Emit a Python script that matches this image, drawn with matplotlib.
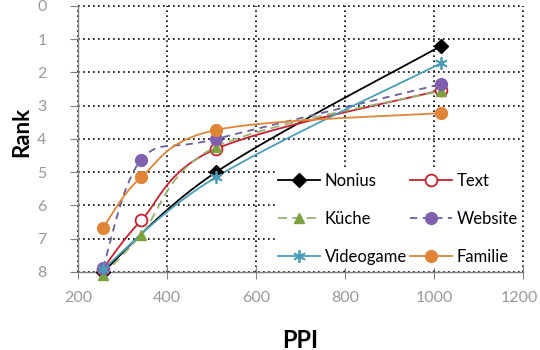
import numpy as np
import matplotlib
matplotlib.use("Agg")
import matplotlib.pyplot as plt
from matplotlib.transforms import ScaledTranslation

plt.rcParams['font.family'] = ['Lato', 'DejaVu Sans']

# Data
ppi = [256, 342, 510, 1016]
nonius = [8.0, None, 5.0, 1.2]
text = [7.9, 6.45, 4.3, 2.53]
kueche = [8.1, 6.88, 4.24, 2.55]
website = [7.88, 4.63, 4.0, 2.35]
videogame = [7.92, None, 5.15, 1.72]
familie = [6.68, 5.15, 3.73, 3.22]

x_ticks = [200, 400, 600, 800, 1000, 1200]
y_ticks = [0, 1, 2, 3, 4, 5, 6, 7, 8]


def excel_smooth(xs, ys, n=30):
    pts = np.array([(x, y) for x, y in zip(xs, ys) if y is not None], dtype=float)
    if len(pts) < 3:
        return pts[:, 0], pts[:, 1]
    ext = np.vstack([pts[0], pts, pts[-1]])
    out = []
    t = np.linspace(0, 1, n)[:, None]
    for i in range(1, len(ext) - 2):
        p0 = ext[i]
        p3 = ext[i + 1]
        c1 = p0 + (ext[i + 1] - ext[i - 1]) / 6.0
        c2 = p3 - (ext[i + 2] - ext[i]) / 6.0
        seg = ((1 - t) ** 3) * p0 + 3 * ((1 - t) ** 2) * t * c1 + 3 * (1 - t) * t ** 2 * c2 + t ** 3 * p3
        out.append(seg if i == 1 else seg[1:])
    out = np.vstack(out)
    return out[:, 0], out[:, 1]


fig = plt.figure(figsize=(5.4, 3.5), dpi=100)
ax = fig.add_axes([0.1444, 0.223, 0.8241, 0.760])

series = [
    ("Nonius", nonius, dict(ls="-", marker="D", mfc="black", mec="black", ms=7), "black"),
    ("Text", text, dict(ls="-", marker="o", mfc="white", mec="#C8202E", ms=8.5, mew=1.3), "#C8202E"),
    ("Küche", kueche, dict(ls=(0, (5, 3)), marker="^", mfc="#7BA23F", mec="#7BA23F", ms=7.5), "#98B070"),
    ("Website", website, dict(ls=(0, (4, 3)), marker="o", mfc="#8060AE", mec="#8060AE", ms=8.5), "#6A5E9E"),
    ("Videogame", videogame, dict(ls="-", marker=(6, 2, 0), mfc="#4A9DB8", mec="#4A9DB8", ms=9, mew=1.3), "#4A9DB8"),
    ("Familie", familie, dict(ls="-", marker="o", mfc="#E08438", mec="#E08438", ms=8.5), "#E08438"),
]

handles = {}
for name, vals, style, lc in series:
    sx, sy = excel_smooth(ppi, vals)
    ax.plot(sx, sy, color=lc, ls=style["ls"], lw=1.3, zorder=3)
    px = [x for x, y in zip(ppi, vals) if y is not None]
    py = [y for y in vals if y is not None]
    ax.plot(px, py, ls="none", marker=style["marker"], ms=style["ms"], mfc=style["mfc"],
            mec=style["mec"], mew=style.get("mew", 1.0), zorder=4, clip_on=False)
    h, = ax.plot([], [], color=lc, ls=style["ls"], lw=1.3, marker=style["marker"], ms=style["ms"],
                 mfc=style["mfc"], mec=style["mec"], mew=style.get("mew", 1.0), label=name)
    handles[name] = h

ax.set_xlim(200, 1200)
ax.set_ylim(8, 0)
ax.set_xticks(x_ticks)
ax.set_yticks(y_ticks)
ax.grid(True, color="black", ls=(0, (1, 2)), lw=1.2)
ax.set_axisbelow(True)
for gl in ax.get_xgridlines() + ax.get_ygridlines():
    gl.set_clip_on(False)
for s in ["top", "right"]:
    ax.spines[s].set_visible(False)
for s in ["left", "bottom"]:
    ax.spines[s].set_color("#808080")
    ax.spines[s].set_linewidth(1.0)
ax.tick_params(axis="x", direction="inout", length=10, color="#808080", labelcolor="#999999",
               labelsize=11.5, pad=9)
ax.tick_params(axis="y", direction="out", length=6, color="#808080", labelcolor="#999999",
               labelsize=11.5, pad=20)
for lab in ax.get_yticklabels():
    lab.set_horizontalalignment("center")
last = ax.get_xticklabels()[-1]
last.set_transform(last.get_transform() + ScaledTranslation(-4 / 100, 0, fig.dpi_scale_trans))

ax.set_xlabel("PPI", fontsize=17, fontweight="bold", va="center")
ax.xaxis.set_label_coords(0.499, -0.256)
ax.set_ylabel("Rank", fontsize=16, fontweight="bold", va="center")
ax.yaxis.set_label_coords(-0.126, 0.526)

order = ["Nonius", "Küche", "Videogame", "Text", "Website", "Familie"]
leg = ax.legend(handles=[handles[n] for n in order], ncol=2, loc="upper left",
                bbox_to_anchor=(0.423, 0.415),
                frameon=True, fontsize=12, handlelength=2.5, handletextpad=0.3,
                columnspacing=0.2, labelspacing=1.3, borderpad=0.2)
leg.get_frame().set_edgecolor("none")
leg.get_frame().set_facecolor("white")
leg.get_frame().set_alpha(1)

fig.savefig("out.png", dpi=100)
